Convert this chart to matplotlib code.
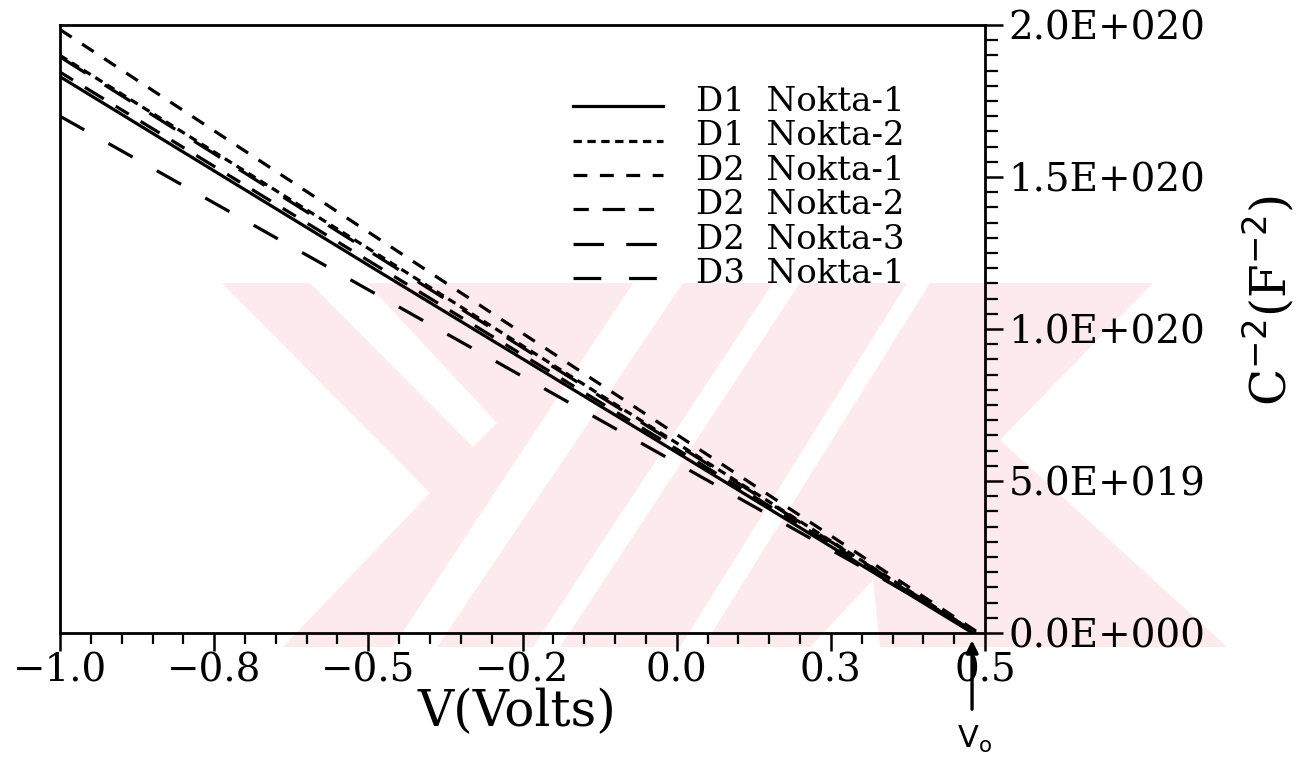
import matplotlib
matplotlib.use("Agg")
import matplotlib.pyplot as plt
from matplotlib.patches import Polygon
from matplotlib.legend_handler import HandlerLine2D

plt.rcParams["lines.scale_dashes"] = False
plt.rcParams["font.family"] = ["DejaVu Serif"]
plt.rcParams["axes.unicode_minus"] = True

# Mott-Schottky data: C^-2 (F^-2) against bias voltage (V)
volts_d1n1 = [-1.0, -0.5, 0.0, 0.48]
csq_d1n1 = [1.83e20, 1.21e20, 0.594e20, 0.0]

volts_d1n2 = [-1.0, -0.5, 0.0, 0.485]
csq_d1n2 = [1.90e20, 1.265e20, 0.625e20, 0.0]

volts_d2n1 = [-1.0, -0.5, 0.0, 0.49]
csq_d2n1 = [1.985e20, 1.319e20, 0.653e20, 0.0]

volts_d2n2 = [-1.0, -0.5, 0.0, 0.485]
csq_d2n2 = [1.845e20, 1.225e20, 0.605e20, 0.0]

volts_d2n3 = [-1.0, -0.5, 0.0, 0.485]
csq_d2n3 = [1.895e20, 1.258e20, 0.62e20, 0.0]

volts_d3n1 = [-1.0, -0.5, 0.0, 0.49]
csq_d3n1 = [1.70e20, 1.129e20, 0.559e20, 0.0]

series_labels = ["D1  Nokta-1", "D1  Nokta-2", "D2  Nokta-1",
                 "D2  Nokta-2", "D2  Nokta-3", "D3  Nokta-1"]

x_ticks = [-1.0, -0.75, -0.5, -0.25, 0.0, 0.25, 0.5]
x_tick_labels = ["\u22121.0", "\u22120.8", "\u22120.5", "\u22120.2", "0.0", "0.3", "0.5"]
y_ticks = [0.0, 0.5e20, 1.0e20, 1.5e20, 2.0e20]
y_tick_labels = ["0.0E+000", "5.0E+019", "1.0E+020", "1.5E+020", "2.0E+020"]

v_zero = 0.479

W, H = 1309, 762
fig = plt.figure(figsize=(W / 100, H / 100), dpi=100, facecolor="white")

# faint background emblem, drawn in pixel space behind the plot
bg = fig.add_axes([0, 0, 1, 1], zorder=-1)
bg.set_xlim(0, W)
bg.set_ylim(H, 0)
bg.axis("off")
pink = "#fdeaee"
emblem_pink = [
    [(222, 283), (1153, 283), (1000, 440), (1227, 647), (283, 647), (430, 493)],
]
emblem_white = [
    [(310, 283), (367, 283), (497, 423), (473, 447)],
    [(393, 647), (437, 647), (683, 283), (633, 283)],
    [(533, 647), (560, 647), (800, 283), (773, 283)],
    [(680, 647), (703, 647), (930, 283), (907, 283)],
    [(810, 647), (880, 647), (873, 580)],
]
for pts in emblem_pink:
    bg.add_patch(Polygon(pts, closed=True, facecolor=pink, edgecolor="none"))
for pts in emblem_white:
    bg.add_patch(Polygon(pts, closed=True, facecolor="white", edgecolor="none"))

ax = fig.add_axes([60 / W, 1 - 633 / H, (985 - 60) / W, (633 - 25) / H])
ax.set_facecolor("none")

lw = 2.3
ax.plot(volts_d1n1, csq_d1n1, color="black", lw=lw, linestyle="-", label=series_labels[0])
ax.plot(volts_d1n2, csq_d1n2, color="black", lw=lw, linestyle=(0, (6, 4)), label=series_labels[1])
ax.plot(volts_d2n1, csq_d2n1, color="black", lw=lw, linestyle=(0, (10, 9)), label=series_labels[2])
ax.plot(volts_d2n2, csq_d2n2, color="black", lw=lw, linestyle=(0, (11, 10, 16, 10)), label=series_labels[3])
ax.plot(volts_d2n3, csq_d2n3, color="black", lw=lw, linestyle=(0, (22, 16)), label=series_labels[4])
ax.plot(volts_d3n1, csq_d3n1, color="black", lw=lw, linestyle=(0, (20, 20)), label=series_labels[5])

ax.set_xlim(-1.0, 0.5)
ax.set_ylim(0, 2.0e20)

for s in ax.spines.values():
    s.set_linewidth(2.0)

ax.set_xticks(x_ticks)
ax.set_xticklabels(x_tick_labels)
ax.set_xticks([-1.0 + 0.05 * i for i in range(31)], minor=True)
ax.yaxis.tick_right()
ax.set_yticks(y_ticks)
ax.set_yticklabels(y_tick_labels)
ax.set_yticks([5e18 * i for i in range(41)], minor=True)

ax.tick_params(axis="x", which="major", direction="out", length=13, width=1.8,
               labelsize=28, pad=1)
ax.tick_params(axis="x", which="minor", direction="out", length=8, width=1.6)
ax.tick_params(axis="y", which="major", direction="out", length=13, width=1.8,
               labelsize=28, pad=4, left=False, right=True)
ax.tick_params(axis="y", which="minor", direction="out", length=9, width=1.6,
               left=False, right=True)

ax.set_xlabel("V(Volts)", fontsize=36)
ax.xaxis.set_label_coords((517 - 60) / 925, (633 - 712) / 608)
ax.xaxis.label.set_va("center")
ax.yaxis.set_label_position("right")
ax.set_ylabel(r"C$^{-2}$(F$^{-2}$)", fontsize=35, rotation=90)
ax.yaxis.set_label_coords((1268 - 60) / 925, (633 - 300) / 608)
ax.yaxis.label.set_va("center")
ax.yaxis.label.set_ha("center")


class BaselineLineHandler(HandlerLine2D):
    """Legend line sample sitting on the text baseline."""

    def create_artists(self, legend, orig_handle, xdescent, ydescent,
                       width, height, fontsize, trans):
        artists = super().create_artists(legend, orig_handle, xdescent, ydescent,
                                         width, height, fontsize, trans)
        for a in artists:
            a.set_ydata([y - 0.3 * height for y in a.get_ydata()])
        return artists


handles, labels = ax.get_legend_handles_labels()
leg = ax.legend(handles, labels, loc="upper left",
                bbox_to_anchor=((573 - 60) / 925, (633 - 86) / 608),
                frameon=False, fontsize=24.5, handlelength=2.65, handletextpad=0.95,
                labelspacing=0.07, borderpad=0, borderaxespad=0,
                handler_map={h: BaselineLineHandler() for h in handles})

# built-in potential marker under the x axis
ax.annotate("", xy=(v_zero, -0.015e20), xycoords="data",
            xytext=(v_zero, -0.26e20), textcoords="data",
            arrowprops=dict(arrowstyle="-|>", color="black", lw=2.4, mutation_scale=18),
            annotation_clip=False)
ax.text(v_zero + 0.004, -0.35e20, r"V$_{\mathrm{o}}$", fontsize=22, family="DejaVu Sans",
        ha="center", va="center", clip_on=False)

fig.savefig("out.png", dpi=100, facecolor="white")
